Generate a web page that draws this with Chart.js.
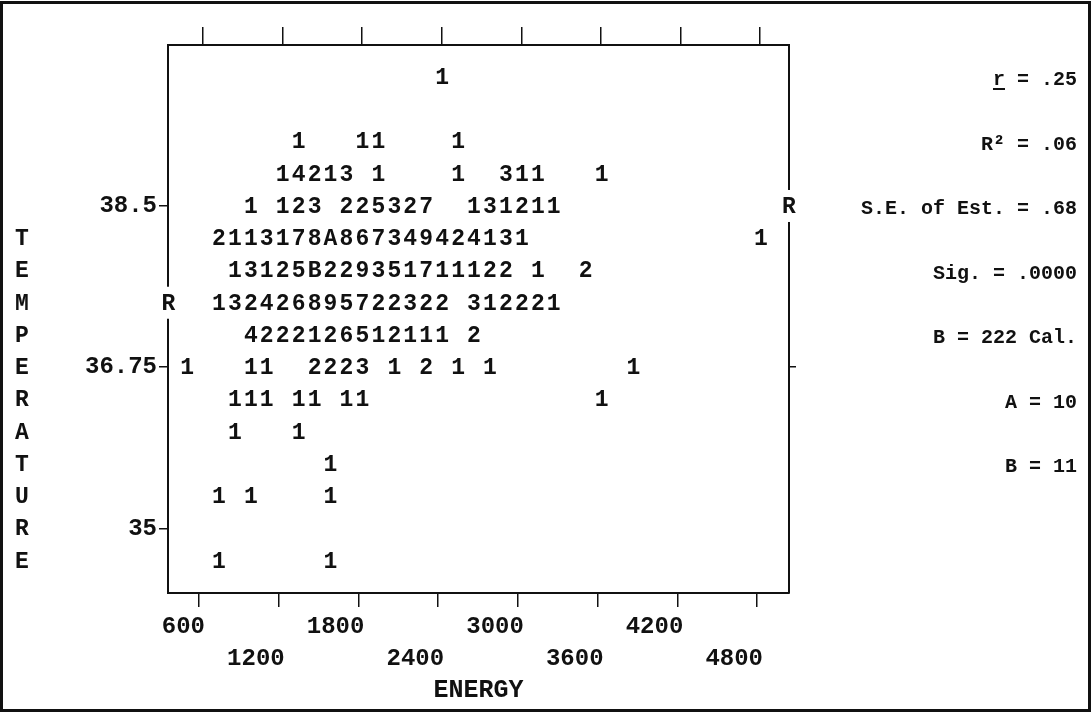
<!DOCTYPE html>
<html>
<head>
<meta charset="utf-8">
<script src="https://cdn.jsdelivr.net/npm/chart.js@4.4.1/dist/chart.umd.min.js"></script>
<style>
  html, body { margin: 0; padding: 0; background: #fff; }
  #wrap { width: 1092px; height: 715px; }
</style>
</head>
<body>
<div id="wrap"><canvas id="plot" width="1092" height="715"></canvas></div>
<script>
// energy (Cal.) is binned in 120-wide columns, temperature in 0.35-wide rows
const energyStart = 390;
const energyStep = 120;
const rowTemps = [39.9, 39.2, 38.85, 38.5, 38.15, 37.8, 37.45, 37.1, 36.75, 36.4, 36.05, 35.7, 35.35, 34.65];
// per row: [first column, run of cell counts]; A = 10, B = 11
const rowRuns = [
  [[17, '1']],
  [[8, '1'], [12, '11'], [18, '1']],
  [[7, '14213'], [13, '1'], [18, '1'], [21, '311'], [27, '1']],
  [[5, '1'], [7, '123'], [11, '225327'], [19, '131211']],
  [[3, '2113178A867349424131'], [37, '1']],
  [[4, '13125B229351711122'], [23, '1'], [26, '2']],
  [[3, '132426895722322'], [19, '312221']],
  [[5, '4222126512111'], [19, '2']],
  [[1, '1'], [5, '11'], [9, '2223'], [14, '1'], [16, '2'], [18, '1'], [20, '1'], [29, '1']],
  [[4, '111'], [8, '11'], [11, '11'], [27, '1']],
  [[4, '1'], [8, '1']],
  [[10, '1']],
  [[3, '1'], [5, '1'], [10, '1']],
  [[3, '1'], [10, '1']]
];
// regression line ends, marked R on the frame
const fitEnergy = [370, 5040];
const fitTemp = [37.45, 38.5];
const energyTicks = [600, 1200, 1800, 2400, 3000, 3600, 4200, 4800];
const tempTicks = [38.5, 36.75, 35];
const statLines = ['r = .25', 'R\u00b2 = .06', 'S.E. of Est. = .68', 'Sig. = .0000', 'B = 222 Cal.', 'A = 10', 'B = 11'];
const yTitle = 'TEMPERATURE';

const MONO = '"Liberation Mono", "DejaVu Sans Mono", monospace';
const INK = '#111';

const cells = [];
rowRuns.forEach((runs, r) => {
  runs.forEach(([col, run]) => {
    [...run].forEach((ch, k) => {
      cells.push({ x: energyStart + (col + k) * energyStep, y: rowTemps[r], n: parseInt(ch, 36) });
    });
  });
});
const fitPoints = fitEnergy.map((e, i) => ({ x: e, y: fitTemp[i] }));

const symbol = n => (n < 10 ? String(n) : String.fromCharCode(55 + n));

const cellText = {
  id: 'cellText',
  beforeDraw(chart) {
    const ctx = chart.ctx;
    ctx.save();
    ctx.fillStyle = '#fff';
    ctx.fillRect(0, 0, chart.width, chart.height);
    ctx.restore();
  },
  afterDatasetsDraw(chart) {
    const ctx = chart.ctx;
    ctx.save();
    ctx.font = 'bold 23px ' + MONO;
    ctx.textAlign = 'center';
    ctx.textBaseline = 'middle';
    ctx.fillStyle = INK;
    chart.getDatasetMeta(0).data.forEach((pt, i) => {
      ctx.fillText(symbol(cells[i].n), pt.x, pt.y + 1);
    });
    chart.getDatasetMeta(1).data.forEach(pt => {
      ctx.fillStyle = '#fff';
      ctx.fillRect(pt.x - 8, pt.y - 16, 16, 32);
      ctx.fillStyle = INK;
      ctx.fillText('R', pt.x, pt.y + 1);
    });
    ctx.restore();
  },
  afterDraw(chart) {
    const ctx = chart.ctx;
    const ys = chart.scales.y;
    ctx.save();
    ctx.fillStyle = INK;

    // vertical axis name, one letter per row
    ctx.font = 'bold 23px ' + MONO;
    ctx.textAlign = 'center';
    ctx.textBaseline = 'middle';
    const top = ys.getPixelForValue(38.15);
    const step = ys.getPixelForValue(37.8) - top;
    [...yTitle].forEach((ch, i) => ctx.fillText(ch, 22, top + i * step + 1));

    // summary statistics
    ctx.font = 'bold 20px ' + MONO;
    ctx.textAlign = 'right';
    ctx.textBaseline = 'middle';
    statLines.forEach((s, i) => {
      const y = 80 + i * 64.5;
      ctx.fillText(s, 1077, y);
      if (i === 0) {
        const w = ctx.measureText(s).width;
        const cw = ctx.measureText('r').width;
        ctx.fillRect(1077 - w, y + 8, cw, 2);
      }
    });

    // page frame
    ctx.strokeStyle = INK;
    ctx.lineWidth = 3;
    ctx.strokeRect(1.5, 2.5, 1088, 708);
    ctx.restore();
  }
};

const tickFont = { family: MONO, size: 24, weight: 'bold' };

new Chart(document.getElementById('plot'), {
  type: 'scatter',
  data: {
    datasets: [
      { label: 'Cases', data: cells, pointRadius: 0, showLine: false },
      { label: 'Regression', data: fitPoints, pointRadius: 0, showLine: false }
    ]
  },
  options: {
    responsive: false,
    animation: false,
    layout: { padding: 0 },
    plugins: { legend: { display: false }, tooltip: { enabled: false } },
    scales: {
      x: {
        type: 'linear', position: 'bottom', min: 366.7, max: 5040.9,
        afterBuildTicks: s => { s.ticks = energyTicks.map(v => ({ value: v })); },
        afterFit: s => { s.height = 122; },
        grid: { drawOnChartArea: false, tickLength: 14, color: INK, lineWidth: 1.5 },
        border: { color: INK, width: 2 },
        ticks: {
          align: 'end', labelOffset: 6, padding: 4, maxRotation: 0, autoSkip: false, color: INK,
          font: { ...tickFont, lineHeight: 1.33 },
          callback: (v, i) => (i % 2 ? ['', String(v)] : [String(v), ''])
        },
        title: {
          display: true, text: 'ENERGY', color: INK,
          font: { family: MONO, size: 25, weight: 'bold' },
          padding: { top: 0, bottom: 9 }
        }
      },
      x2: {
        type: 'linear', position: 'top', min: 336, max: 5019,
        afterBuildTicks: s => { s.ticks = energyTicks.map(v => ({ value: v })); },
        afterFit: s => { s.height = 45; },
        grid: { drawOnChartArea: false, tickLength: 18, color: INK, lineWidth: 1.5 },
        border: { color: INK, width: 2 },
        ticks: { display: false }
      },
      y: {
        type: 'linear', position: 'left', min: 34.3, max: 40.247,
        afterBuildTicks: s => { s.ticks = tempTicks.map(v => ({ value: v })); },
        afterFit: s => { s.width = 168; },
        grid: { drawOnChartArea: false, tickLength: 9, color: INK, lineWidth: 1.5 },
        border: { color: INK, width: 2 },
        ticks: { padding: 2, color: INK, font: tickFont, callback: v => String(v) }
      },
      y2: {
        type: 'linear', position: 'right', min: 34.3, max: 40.247,
        afterBuildTicks: s => { s.ticks = [{ value: tempTicks[1] }]; },
        afterFit: s => { s.width = 303; },
        grid: { drawOnChartArea: false, tickLength: 7, color: INK, lineWidth: 1.5 },
        border: { color: INK, width: 2 },
        ticks: { display: false }
      }
    }
  },
  plugins: [cellText]
});
</script>
</body>
</html>
